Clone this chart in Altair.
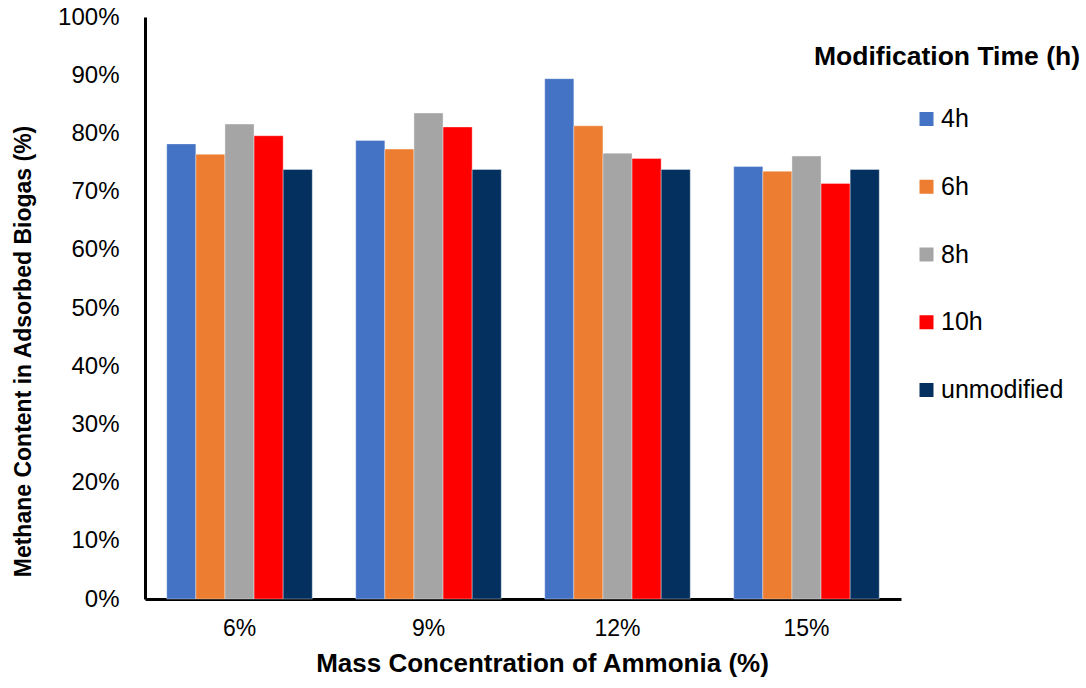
import altair as alt
import pandas as pd

# Methane content (%) by ammonia mass concentration and modification time
concentrations = ["6%", "9%", "12%", "15%"]
series = ["4h", "6h", "8h", "10h", "unmodified"]
values_4h = [78.2, 78.8, 89.4, 74.3]
values_6h = [76.4, 77.3, 81.3, 73.5]
values_8h = [81.6, 83.5, 76.6, 76.1]
values_10h = [79.6, 81.1, 75.7, 71.4]
values_unmod = [73.8, 73.8, 73.8, 73.8]
colors = ["#4472C4", "#ED7D31", "#A5A5A5", "#FF0000", "#03305E"]

rows = []
for s, vals in zip(series, [values_4h, values_6h, values_8h, values_10h, values_unmod]):
    for c, v in zip(concentrations, vals):
        rows.append({"conc": c, "time": s, "value": v / 100.0})
df = pd.DataFrame(rows)

FONT = "Liberation Sans"

chart = alt.Chart(df).mark_bar(stroke="white", strokeWidth=0.6, strokeOpacity=0.6).encode(
    x=alt.X(
        "conc:N",
        sort=concentrations,
        scale=alt.Scale(paddingInner=0.23, paddingOuter=0.115),
        axis=alt.Axis(
            title="Mass Concentration of Ammonia (%)",
            labelAngle=0,
            labelFontSize=23,
            labelPadding=18,
            labelColor="black",
            ticks=False,
            domainColor="black",
            domainWidth=3,
            titleFontSize=26,
            titleFontWeight="bold",
            titleColor="black",
            titlePadding=10,
            titleX=397,
        ),
    ),
    xOffset=alt.XOffset("time:N", sort=series),
    y=alt.Y(
        "value:Q",
        scale=alt.Scale(domain=[0, 1], nice=False),
        axis=alt.Axis(
            title="Methane Content in Adsorbed Biogas (%)",
            format=".0%",
            values=[i / 10 for i in range(11)],
            grid=False,
            ticks=False,
            labelFontSize=24,
            labelPadding=26,
            labelColor="black",
            domainColor="black",
            domainWidth=3,
            titleFontSize=23,
            titleFontWeight="bold",
            titleColor="black",
            titlePadding=22,
            titleY=334,
        ),
    ),
    color=alt.Color(
        "time:N",
        sort=series,
        scale=alt.Scale(domain=series, range=colors),
        legend=alt.Legend(
            title="Modification Time (h)",
            orient="none",
            legendX=669,
            legendY=27,
            titleFontSize=26.5,
            titleFontWeight="bold",
            titleColor="black",
            titleLimit=400,
            titlePadding=36,
            symbolType="square",
            symbolSize=196,
            symbolStrokeWidth=0,
            symbolOffset=100,
            labelOffset=2,
            labelFontSize=25,
            labelColor="black",
            labelLimit=300,
            rowPadding=41.75,
        ),
    ),
).properties(
    width=756,
    height=582,
    padding={"left": 12, "top": 5, "right": 2, "bottom": 2},
).configure(
    font=FONT,
).configure_view(
    stroke=None,
)

chart.save("out.html", embed_options={"renderer": "svg", "actions": False})
